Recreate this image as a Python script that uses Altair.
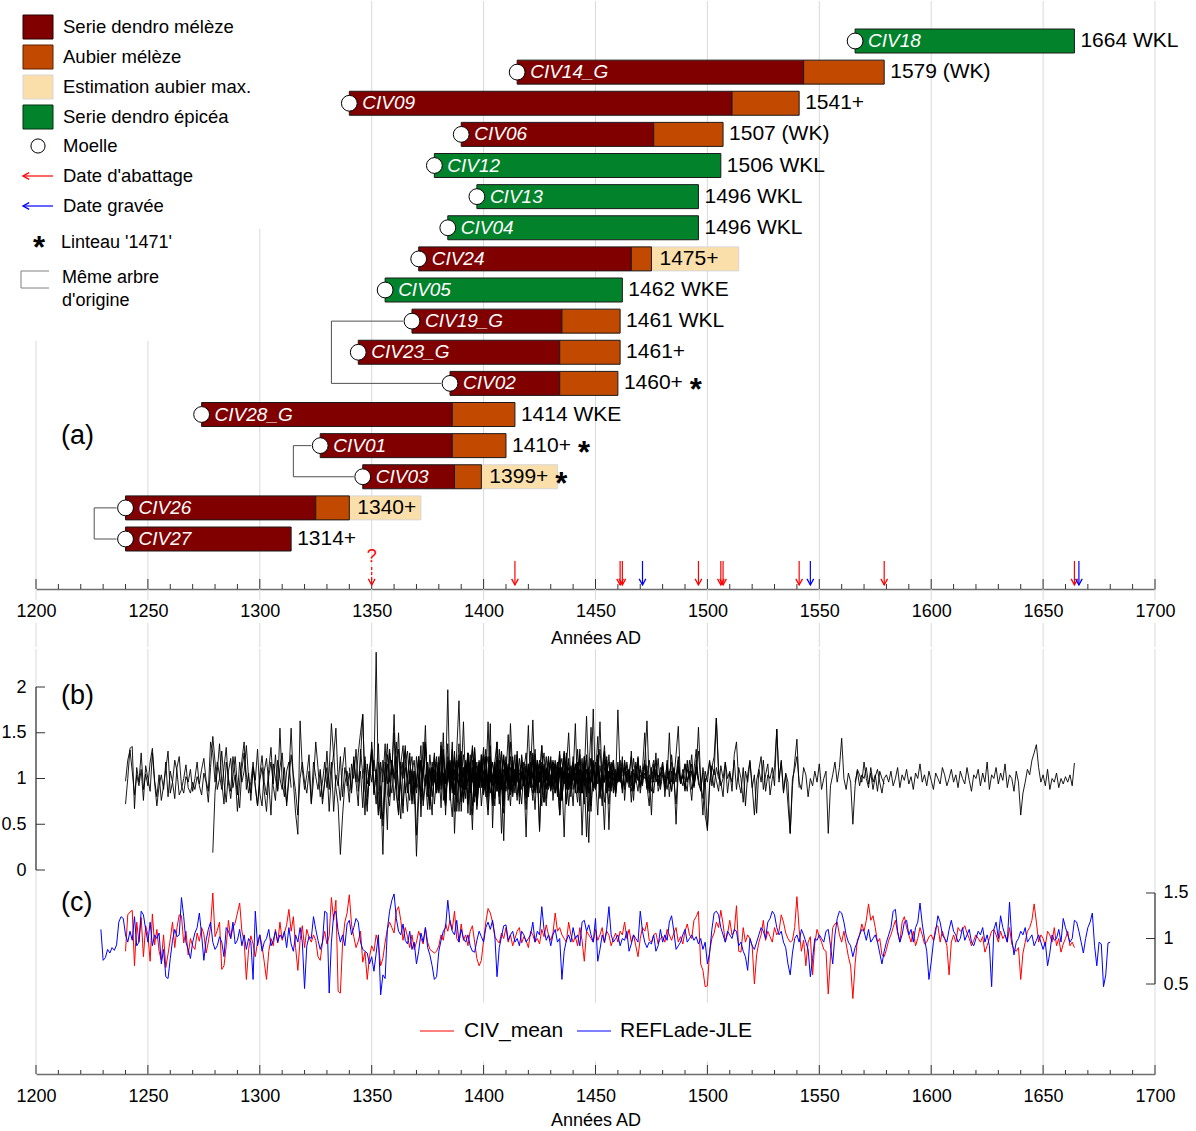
import altair as alt
import pandas as pd

FONT = "Liberation Sans"

# ---------------- panel (a): samples ----------------
samples = ["CIV18", "CIV14_G", "CIV09", "CIV06", "CIV12", "CIV13", "CIV04", "CIV24", "CIV05",
           "CIV19_G", "CIV23_G", "CIV02", "CIV28_G", "CIV01", "CIV03", "CIV26", "CIV27"]
species = ["epicea", "meleze", "meleze", "meleze", "epicea", "epicea", "epicea", "meleze", "epicea",
           "meleze", "meleze", "meleze", "meleze", "meleze", "meleze", "meleze", "meleze"]
pith_year = [1566, 1415, 1340, 1390, 1378, 1397, 1384, 1371, 1356, 1368, 1344, 1385, 1274, 1327, 1346, 1240, 1240]
sapwood_start = [None, 1543, 1511, 1476, None, None, None, 1466, None, 1435, 1434, 1434, 1386, 1386, 1387, 1325, None]
last_ring = [1664, 1579, 1541, 1507, 1506, 1496, 1496, 1475, 1462, 1461, 1461, 1460, 1414, 1410, 1399, 1340, 1314]
est_max = [None, None, None, None, None, None, None, 1514, None, None, None, None, None, None, 1433, 1372, None]
end_label = ["1664 WKL", "1579 (WK)", "1541+", "1507 (WK)", "1506 WKL", "1496 WKL", "1496 WKL", "1475+",
             "1462 WKE", "1461 WKL", "1461+", "1460+", "1414 WKE", "1410+", "1399+", "1340+", "1314+"]
lintel_1471 = ["CIV02", "CIV01", "CIV03"]
same_tree = [("CIV19_G", "CIV02"), ("CIV01", "CIV03"), ("CIV26", "CIV27")]
same_tree_link_year = [1332, 1315, 1226]

felling_years = [1414, 1461, 1462, 1496, 1506, 1507, 1541, 1579, 1664]
felling_uncertain = [1350]
engraved_years = [1471, 1546, 1666]

# ---------------- panel (b): individual series (x100) ----------------
b_start = {"CIV26": 1240, "CIV27": 1240, "CIV28_G": 1279, "CIV01": 1327, "CIV09": 1340, "CIV23_G": 1344,
           "CIV03": 1346, "CIV05": 1356, "CIV19_G": 1368, "CIV24": 1371, "CIV12": 1378, "CIV04": 1384,
           "CIV02": 1385, "CIV06": 1390, "CIV13": 1397, "CIV14_G": 1415, "CIV18": 1566}

civ26_b = [72,100,133,135,67,112,96,128,88,105, 92,118,133,98,80,104,76,92,110,130,
           84,96,120,108,82,88,100,115,90,84, 96,88,102,94,110,122,98,86,140,128,
           96,118,104,88,112,134,95,78,102,124, 92,68,110,128,104,84,96,118,90,70,
           104,125,96,82,110,134,92,76,120,100, 88,112,70,98,126,104,86,60,100,118,
           96,84,108,74,118,102,88,110,78,96, 112,64,104,128,90,72,17,60,94,108, 86]
civ27_b = [97,120,131,108,82,104,92,110,76,114, 100,86,128,95,70,92,104,88,118,80,
           108,96,78,112,124,92,84,102,96,110, 86,100,118,92,82,106,96,74,112,146,
           118,88,100,130,96,74,108,122,90,104, 82,118,96,108,136,100,84,112,92,70,
           98,112,86,64,102,118,94,126,88,155, 96,80,108,118,90]
civ28_b = [19, 85,108,138,96,72,118,100,86,124,104, 64,96,120,140,88,106,76,112,98,132,
           84,70,108,122,94,60,116,100,86,112, 128,92,74,104,155,96,62,39,163,110,
           88,104,126,72,98,140,112,80,96,118, 90,108,160,124,155,98,76,112,134,92,
           106,84,120,96,128,150,170,88,64,112, 96,120,102,138,70,56,118,94,132,104,
           170,92,60,116,136,84,100,128,76,108, 90,124,58,104,140,96,72,118,100,86,
           112,68,130,96,197,84,58,120,104,138, 80,94,116,62,108,132,90,76,112,100,
           126,88,60,108,118,94,140,82,104,70, 116,96,124,88,110]
civ01_b = [108,72,96, 130,88,118,64,104,92,124,80,112,98, 74,116,100,132,86,108,68,120,94,110,
           126,82,104,60,118,96,138,84,70,112, 100,124,88,56,116,132,92,76,108,120,
           84,102,136,70,96,118,88,60,124,104, 92,140,76,108,118,86,100,130,64,96,
           112,88,120,72,104,136,94,80,116,100, 86,124,66,108,92,118,140,80,98,110, 94]
civ09_b = [112,88,124,96,70,132,104,60,116,92, 140,108,238,86,56,120,98,44,128,110,
           150,82,62,118,100,136,84,108,72,96, 15,80,120,104,138,90,66,112,96,124,
           84,130,100,70,118,92,140,64,104,122, 96,112,78,128,60,106,134,88,116,70,
           100,124,92,136,74,110,86,120,96,62, 118,104,140,80,98,126,72,108,92,114,
           88,130,100,66,120,96,136,82,110,92, 124,76,104,118,60,96,130,88,112,100,
           70,116,94,132,84,108,122,64,100,118, 90,126,80,110,136,96,72,104,120,86,
           112,98,124,76,108,94,130,88,100,116, 84,104,120,92,70,112,100,128,86,96,
           118,80,108,94,126,100,72,114,96,104, 86,120,98,76,110,132,94,88,106,60,
           45,92,112,124,166,104,96,80,118,100, 108,86,126,140,96,84,112,70,104,120,
           92,60,98,110,124,88,104,116,82,100, 112,154,96,120,86,104,72,40,92,118, 143,90]
civ23_b = [96,120,170,88, 72,104,130,84,110,60,92,17,106,138, 96,120,76,104,150,88,62,116,130,94,
           108,72,124,96,86,140,100,66,112,92, 120,84,104,136,92,70,118,96,112,82,
           130,185,100,74,110,92,126,60,104,118, 90,108,134,80,96,116,72,104,124,88,
           100,32,118,92,160,106,84,112,96,72, 110,128,92,100,76,116,88,104,136,94,
           70,108,120,96,84,112,60,100,126,90, 106,80,118,96,132,88,104,72,110,94,
           122,86,100,60,114,96,128,84,108,100, 92,110,96,104]
civ03_b = [100,124,80,110, 132,96,72,118,104,48,90,126,100,84, 112,140,76,100,118,92,64,108,124,88,
           96,120,72,104,136,90,110,80,100,118, 86,104,128,60,112,96,120,84,108,92,
           130,74,100,116,88,104,122,70,96,110]
civ05_b = [92,116,80,120, 104,88,132,96,70,112,100,124,84,108, 38,96,118,104,158,80,96,112,72,100,
           124,88,106,94,138,76,110,98,120,64, 100,162,88,112,96,44,116,104,92,126,
           82,108,98,120,70,112,94,132,88,104, 116,76,100,124,92,108,84,118,98,66,
           110,96,128,86,104,120,92,74,112,100, 88,118,96,106,130,80,102,114,70,98,
           124,92,108,84,116,100,36,104,156,94, 88,110,132,96,74,106,118,92,100,84, 112,98,104]
civ19_b = [110,84, 96,124,80,108,92,116,70,102,128,88, 104,96,150,74,110,90,132,40,100,118,
           64,106,94,122,84,100,116,72,108,96, 124,88,104,112,76,98,120,92,106,84,
           118,100,70,112,96,130,86,104,92,116, 80,108,164,96,104,42,114,100,88,120,
           94,106,84,118,100,76,110,96,122,88, 104,92,116,70,108,98,126,84,100,112,
           90,120,78,104,96,114,86,106,100,92, 110,96]
civ24_b = [98,120,76,104,88,126,96,110,84, 116,92,104,70,124,96,108,86,118,100,
           74,112,96,128,88,104,120,66,100,114, 92,106,80,124,98,112,86,100,130,76,
           104,148,94,84,110,96,122,88,102,36, 116,100,90,126,84,108,96,114,78,104,
           120,92,100,86,112,96,128,72,106,94, 110,84,118,100,92,124,80,104,96,116,
           88,106,162,94,44,110,100,118,86,104, 96,112,84,120,100,90,108,76,114,98,
           104,92,116,88,100,96]
civ12_b = [104,86, 118,96,132,80,104,120,92,110,74,100, 124,88,106,96,118,70,102,114,90,126,
           84,108,98,160,46,112,94,104,130,88, 100,116,82,108,96,124,90,104,112,78,
           106,94,120,86,102,116,96,74,110,100, 92,118,104,84,126,98,108,72,100,114,
           88,106,96,120,38,104,168,94,110,90, 102,118,84,106,96,124,92,100,112,80,
           108,96,118,88,104,110,92,122,100,86, 114,98,106,90,120,102,84,110,96,104,
           118,92,100,108,86,112,96,120,94,104, 88,110,100,116,92,106,156,98,60,108,
           96,118,104,90,112,100,96]
civ04_b = [96,118,84,108,100,126, 90,104,118,76,112,96,132,88,106,120, 94,110,84,122,100,70,114,98,108,126,
           86,104,96,118,92,110,80,124,100,88, 116,98,106,84,120,96,110,128,90,102,
           114,88,104,96,122,76,108,100,118,92, 104,160,86,110,98,116,94,30,106,120,
           96,112,88,104,130,92,100,116,84,108, 98,120,90,106,114,96,104,86,118,100,
           92,110,150,96,104,60,116,100,94,112, 106,90,120,98,86,110,102,124,94,104,
           116,96,108,88,100,112,98]
civ02_b = [110,88,124,100,92, 116,80,106,128,96,112,74,104,120,90, 108,96,162,84,100,118,92,110,40,104,
           124,98,86,112,104,120,90,108,96,80, 114,100,126,92,106,84,118,96,110,102,
           88,120,96,108,76,112,100,124,90,106, 98,116,84,104,122,92,110,96,64,108,
           118,94,104,86,112,100,126,90,106,98, 96]
civ06_b = [104,126,88,110,96,120,80,104,116,92, 108,132,86,100,118,94,110,72,104,124,
           96,112,88,120,100,76,108,116,92,104, 158,90,106,98,118,44,112,100,124,88,
           104,96,116,80,110,122,94,106,88,100, 118,92,108,126,84,104,96,112,70,110,
           100,124,88,106,96,116,90,108,120,84, 104,98,112,92,118,100,86,110,96,122,
           90,106,100,114,84,108,96,120,92,104, 112,88,100,150,96,106,50,110,100,92,
           116,98,104,126,90,108,100,86,112,96, 104,120,92,110,98,86,114,100]
civ13_b = [92,118,100, 86,110,124,96,104,78,116,100,90,120, 104,88,112,96,126,82,106,100,118,92,
           110,96,84,120,102,114,90,106,98,124, 88,104,116,92,108,100,36,112,150,96,
           106,90,118,100,84,114,96,108,122,92, 100,146,88,104,96,120,44,110,102,94,
           118,100,90,112,96,106,124,88,104,98, 110,94,116,100,86,108,120,96,104,92,
           114,100,88,106,118,94,102,110,96,104, 90,116,100,108,94,120,98]
civ14_b = [112,88,126,96,104, 80,118,100,132,92,108,70,116,98,124, 86,104,120,96,60,112,100,128,88,106,
           118,94,74,110,100,124,84,108,96,176, 90,112,100,70,120,96,108,86,116,94,
           175,104,88,118,96,110,74,106,100,124, 92,104,118,163,96,86,110,100,122,88,
           104,96,116,80,108,100,126,157,94,110, 98,86,120,104,92,112,130,96,78,100,
           43,96,114,104,166,110,92,100,118,84, 106,96,120,88,112,100,74,108,96,118,
           90,104,62,110,96,120,86,104,100,112, 92,154,100,118,84,106,96,40,100,110,
           124,96,88,112,104,80,100,92,108,96, 116,88,100,108,40,92,104,118,96,112,
           144,100,88,106,96,50,92,110,104,96, 118,100,90,112,96,104,86,108,100,94]
civ18_b = [96,108,92,104, 100,112,94,106,88,102,110,96,84,100, 104,96,108,92,100,112,90,104,98,110,
           94,102,88,106,100,116,96,104,92,108, 98,88,106,100,94,112,104,92,100,110,
           96,104,90,108,100,94,112,98,86,104, 100,110,92,106,96,118,88,104,100,112,
           94,106,98,116,90,104,100,86,108,96, 60,84,96,110,104,120,128,137,112,96,
           104,92,110,88,100,96,106,90,100,94, 102,96,104,92,117]

b_values = {"CIV26": civ26_b, "CIV27": civ27_b, "CIV28_G": civ28_b, "CIV01": civ01_b, "CIV09": civ09_b,
            "CIV23_G": civ23_b, "CIV03": civ03_b, "CIV05": civ05_b, "CIV19_G": civ19_b, "CIV24": civ24_b,
            "CIV12": civ12_b, "CIV04": civ04_b, "CIV02": civ02_b, "CIV06": civ06_b, "CIV13": civ13_b,
            "CIV14_G": civ14_b, "CIV18": civ18_b}

# ---------------- panel (c): chronologies (x100) ----------------
civ_mean_start = 1240
civ_mean = [86,126,129,131,70,118,96,123,80,114, 104,75,127,93,110,86,76,104,68,83,
            99,118,90,112,126,125,95,108,82,100, 92,88,106,97,112,105,84,96,113,150,
            102,109,118,66,70,92,120,100,112,117, 128,139,108,97,55,88,103,94,80,96,
            104,92,74,55,86,100,92,110,95,118, 98,106,115,132,108,124,90,65,98,114,
            90,110,101,96,104,98,80,76,96,108, 94,103,145,120,142,42,40,95,118,128,
            148,115,102,90,97,108,74,85,55,80, 92,86,104,94,70,78,96,110,118,112,
            106,130,135,120,98,112,102,90,104,88, 96,108,100,94,112,96,88,86,84,86,
            92,104,98,116,108,120,110,130,100,96, 116,98,104,92,108,114,96,78,70,76,
            98,118,133,128,118,102,98,95,106,100, 112,96,104,92,100,108,112,95,102,98,
            90,108,104,96,100,94,110,102,115,104, 98,106,128,108,112,104,100,96,118,104,
            96,102,92,112,98,75,108,104,100,96, 110,98,104,112,95,108,104,92,100,106,
            96,108,104,118,100,110,96,104,92,80, 100,112,108,118,98,96,104,106,94,100,
            102,96,110,104,98,106,112,96,102,94, 108,116,104,100,120,124,130,72,65,47,
            48,86,100,106,118,112,131,116,96,105, 120,104,108,136,86,85,112,96,104,100,
            92,50,82,96,104,120,98,108,102,96, 112,104,108,126,118,106,100,96,98,112,
            146,110,86,98,70,96,102,60,95,110, 102,96,88,86,39,80,112,116,118,104,
            96,108,94,80,70,34,72,98,104,116, 108,120,138,120,125,112,96,100,82,80,
            88,98,104,112,120,106,96,118,124,112, 104,96,108,92,100,112,104,94,96,102,
            104,98,112,114,96,108,100,92,60,96, 104,96,112,108,110,114,106,100,92,98,
            104,100,96,102,85,92,100,108,110,104, 96,108,100,104,96,112,94,88,86,90,
            55,84,96,108,112,120,138,118,96,104, 100,92,108,104,96,112,92,100,85,94,
            100,108,92,96,90]
ref_lade_start = 1229
ref_lade = [110, 76,79,88,84,90,87,93,118,124,122, 104,96,108,98,124,92,96,130,126,110,
            96,118,92,104,100,106,72,88,58,56, 78,98,110,102,104,145,124,96,88,78,
            96,106,112,128,104,76,98,110,118,96, 88,92,102,96,80,112,108,100,118,94,
            98,110,92,104,88,100,96,55,130,92, 104,86,96,100,110,92,98,108,96,104,
            100,108,90,112,94,86,104,96,112,96, 45,92,102,100,124,110,98,88,96,130,
            128,40,96,126,130,108,96,104,92,116, 120,104,112,122,118,96,88,86,84,72,
            80,64,84,104,38,60,56,110,130,142, 149,122,108,104,116,98,94,108,88,96,
            72,86,106,96,112,90,82,70,55,58, 86,98,108,112,142,118,108,104,120,96,
            110,100,96,104,92,86,85,98,108,102, 96,112,118,110,120,104,58,90,102,114,
            115,98,104,108,96,100,92,108,104,96, 100,104,118,96,108,104,135,110,98,104,
            92,104,110,96,100,55,86,98,104,96, 112,100,104,92,118,120,108,115,104,96,
            122,75,88,104,96,110,135,104,96,100, 104,92,100,98,108,86,94,104,100,96,
            130,108,96,90,96,94,104,86,92,110, 96,104,98,118,125,108,88,92,96,104,
            110,96,100,104,98,102,94,100,88,96, 72,84,110,128,130,126,112,104,96,108,
            104,100,110,108,92,96,86,80,65,100, 92,88,96,104,112,108,100,118,122,130,
            126,112,104,108,96,90,72,60,84,100, 104,96,110,104,96,88,58,78,100,98,
            104,100,96,108,110,92,72,104,122,130, 128,118,104,96,92,80,90,96,104,110,
            108,98,110,96,100,104,96,84,72,86, 96,104,112,130,132,108,96,104,118,120,
            104,110,96,112,118,139,116,100,86,55, 74,96,108,125,118,104,100,96,110,120,
            108,104,96,100,112,98,104,110,96,92, 100,108,104,112,96,104,92,47,110,118,
            100,125,112,104,96,140,100,82,96,100, 108,104,112,96,100,104,92,98,104,96,
            88,96,70,84,104,98,100,110,96,122, 112,104,96,100,120,118,108,96,84,100,
            112,118,128,92,70,96,94,47,60,95, 96]

# ---------------- styling ----------------
W = 1119
HA = 588
HBC = 425
MAROON = "#800000"
SAP = "#c24a00"
EST = "#fbdfab"
GREEN = "#01822b"
GRID = "#d9d9d9"
RED = "#ff0000"
BLUE = "#0000ff"
DOWN = "M-0.7,-1.3L0,0L0.7,-1.3"
LEFT = "M1.3,-0.7L0,0L1.3,0.7"

one = pd.DataFrame({"k": [0]})


def vtext(s, x, y, size, color="black", align="left", weight="normal", style="normal"):
    return alt.Chart(one).mark_text(text=s, font=FONT, fontSize=size, color=color, align=align,
                                    baseline="middle", fontWeight=weight, fontStyle=style).encode(
        x=alt.value(x), y=alt.value(y))


def vrule(x1, y1, x2, y2, color, width=1.0):
    return alt.Chart(one).mark_rule(color=color, strokeWidth=width).encode(
        x=alt.value(x1), y=alt.value(y1), x2=alt.value(x2), y2=alt.value(y2))


def vrect(x1, y1, x2, y2, fill, stroke, width=1.0):
    return alt.Chart(one).mark_rect(fill=fill, stroke=stroke, strokeWidth=width).encode(
        x=alt.value(x1), x2=alt.value(x2), y=alt.value(y1), y2=alt.value(y2))


xs = alt.Scale(domain=[1200, 1700], nice=False, zero=False)


def make_xaxis(title_pad):
    return alt.Axis(orient="bottom", values=list(range(1200, 1701, 50)), format="d",
                    labelFontSize=18, labelPadding=13, ticks=False, grid=False, labelFlush=False,
                    domainColor="#6e6e6e", domainWidth=1.5, labelFont=FONT,
                    title="Années AD", titleFontSize=18, titleFont=FONT,
                    titleFontWeight="normal", titlePadding=title_pad, labelColor="black",
                    titleColor="black")


# identical x axis definition used by every layer of a panel so that the merged axis is consistent
XAXIS_A = make_xaxis(9)
XAXIS_BC = make_xaxis(6)


def XA(field):
    return alt.X(field, scale=xs, axis=XAXIS_A, title="Années AD")


def XB(field):
    return alt.X(field, scale=xs, axis=XAXIS_BC, title="Années AD")


ROW0, ROWSTEP = 40.0, 31.125
ys = alt.Scale(domain=[-ROW0 / ROWSTEP, (HA - ROW0) / ROWSTEP], nice=False, zero=False, reverse=True)
HALF = 12.0 / ROWSTEP


def YA(field):
    return alt.Y(field, scale=ys, axis=None)


row_of = {s: i for i, s in enumerate(samples)}

seg_rows = []
for i, s in enumerate(samples):
    heart_end = sapwood_start[i] if sapwood_start[i] else last_ring[i]
    seg_rows.append(dict(row=i, x0=pith_year[i], x1=heart_end, kind=species[i]))
    if sapwood_start[i]:
        seg_rows.append(dict(row=i, x0=sapwood_start[i], x1=last_ring[i], kind="aubier"))
seg = pd.DataFrame(seg_rows)
seg["y0"] = seg["row"] - HALF
seg["y1"] = seg["row"] + HALF

est = pd.DataFrame([dict(row=i, x0=last_ring[i], x1=est_max[i]) for i in range(len(samples)) if est_max[i]])
est["y0"] = est["row"] - HALF
est["y1"] = est["row"] + HALF

info = pd.DataFrame(dict(name=samples, row=list(range(len(samples))), pith=pith_year, last=last_ring,
                         label=end_label, has_est=[e is not None for e in est_max],
                         lintel=[s in lintel_1471 for s in samples]))

layers_a = []

grid_years = list(range(1200, 1701, 50))
for top, yrs in [(340, [1200, 1250]), (228, [1300]), (0, [y for y in grid_years if y > 1300])]:
    layers_a.append(alt.Chart(pd.DataFrame({"year": yrs})).mark_rule(color=GRID, strokeWidth=1).encode(
        x=XA("year:Q"), y=alt.value(top), y2=alt.value(HA)))
# grid continues between the two panels, around the tick labels and the axis title
layers_a.append(alt.Chart(pd.DataFrame({"year": grid_years})).mark_rule(color=GRID, strokeWidth=1).encode(
    x=XA("year:Q"), y=alt.value(HA), y2=alt.value(HA + 11)))
layers_a.append(alt.Chart(pd.DataFrame({"year": [y for y in grid_years if y != 1450]})).mark_rule(
    color=GRID, strokeWidth=1).encode(x=XA("year:Q"), y=alt.value(HA + 34), y2=alt.value(HA + 58)))

br_v, br_h = [], []
for (a, b), yr in zip(same_tree, same_tree_link_year):
    br_v.append(dict(x=yr, r0=row_of[a], r1=row_of[b]))
    for s in (a, b):
        br_h.append(dict(x=yr, x2=pith_year[row_of[s]] - 4, r=row_of[s]))
layers_a.append(alt.Chart(pd.DataFrame(br_v)).mark_rule(color="#505050", strokeWidth=1).encode(
    x=XA("x:Q"), y=YA("r0:Q"), y2="r1:Q"))
layers_a.append(alt.Chart(pd.DataFrame(br_h)).mark_rule(color="#505050", strokeWidth=1).encode(
    x=XA("x:Q"), x2="x2:Q", y=YA("r:Q")))

layers_a.append(alt.Chart(est).mark_rect(fill=EST, stroke="#d6d6d6", strokeWidth=1).encode(
    x=XA("x0:Q"), x2="x1:Q", y=YA("y0:Q"), y2="y1:Q"))

layers_a.append(alt.Chart(seg).mark_rect(stroke="#1a1a1a", strokeWidth=1).encode(
    x=XA("x0:Q"), x2="x1:Q", y=YA("y0:Q"), y2="y1:Q",
    fill=alt.Fill("kind:N", scale=alt.Scale(domain=["meleze", "aubier", "epicea"],
                                            range=[MAROON, SAP, GREEN]), legend=None)))

layers_a.append(alt.Chart(info).mark_point(shape="circle", filled=True, fill="white", stroke="black",
                                           strokeWidth=1, size=250, opacity=1).encode(
    x=XA("pith:Q"), y=YA("row:Q")))

layers_a.append(alt.Chart(info).mark_text(font=FONT, fontSize=19, fontStyle="italic", color="white",
                                          align="left", baseline="middle", dx=13).encode(
    x=XA("pith:Q"), y=YA("row:Q"), text="name:N"))

for flag, dx in [(False, 6), (True, 8)]:
    sub = info[info["has_est"] == flag]
    layers_a.append(alt.Chart(sub).mark_text(font=FONT, fontSize=21, color="black", align="left",
                                             baseline="middle", dx=dx).encode(
        x=XA("last:Q"), y=YA("row:Q"), text="label:N"))
    subl = sub[sub["lintel"]]
    layers_a.append(alt.Chart(subl).mark_text(text="*", font=FONT, fontSize=31, fontWeight="bold",
                                              color="black", align="center", baseline="middle",
                                              dx=dx + 72, dy=8).encode(
        x=XA("last:Q"), y=YA("row:Q")))

tick_years = list(range(1200, 1701, 10))
maj = pd.DataFrame({"year": [t for t in tick_years if t % 50 == 0]})
mnr = pd.DataFrame({"year": [t for t in tick_years if t % 50 != 0]})
layers_a.append(alt.Chart(maj).mark_rule(color="#333333", strokeWidth=1).encode(
    x=XA("year:Q"), y=alt.value(HA - 10), y2=alt.value(HA)))
layers_a.append(alt.Chart(mnr).mark_rule(color="#333333", strokeWidth=1).encode(
    x=XA("year:Q"), y=alt.value(HA - 5), y2=alt.value(HA)))

arr_df = pd.DataFrame({"year": felling_years + engraved_years,
                       "kind": ["f"] * len(felling_years) + ["e"] * len(engraved_years)})
acol = alt.Color("kind:N", scale=alt.Scale(domain=["f", "e"], range=[RED, BLUE]), legend=None)
layers_a.append(alt.Chart(arr_df).mark_rule(strokeWidth=1.2).encode(
    x=XA("year:Q"), y=alt.value(560), y2=alt.value(584), color=acol))
layers_a.append(alt.Chart(arr_df).mark_point(shape=DOWN, filled=False, size=90, strokeWidth=1.3,
                                             opacity=1).encode(
    x=XA("year:Q"), y=alt.value(584), color=acol))
unc = pd.DataFrame({"year": felling_uncertain})
layers_a.append(alt.Chart(unc).mark_rule(strokeWidth=1.2, color=RED, strokeDash=[3, 2]).encode(
    x=XA("year:Q"), y=alt.value(566), y2=alt.value(584)))
layers_a.append(alt.Chart(unc).mark_point(shape=DOWN, filled=False, size=90, strokeWidth=1.3, color=RED,
                                          opacity=1).encode(
    x=XA("year:Q"), y=alt.value(584)))
layers_a.append(alt.Chart(unc).mark_text(text="?", font=FONT, fontSize=18, color=RED, align="center",
                                         baseline="middle").encode(
    x=XA("year:Q"), y=alt.value(556)))

layers_a.append(vtext("(a)", 25, 435, 27))

leg_items = [("Serie dendro mélèze", MAROON, "#2a0000"), ("Aubier mélèze", SAP, "#5a2000"),
             ("Estimation aubier max.", EST, "#d6d6d6"), ("Serie dendro épicéa", GREEN, "#003010")]
for i, (lab, fill, strk) in enumerate(leg_items):
    yc = 26 + 30 * i
    layers_a.append(vrect(-13, yc - 12, 17, yc + 12, fill, strk))
    layers_a.append(vtext(lab, 27, yc, 18.5))
layers_a.append(alt.Chart(one).mark_point(shape="circle", filled=True, fill="white", stroke="black",
                                          strokeWidth=1, size=200, opacity=1).encode(
    x=alt.value(2), y=alt.value(145)))
layers_a.append(vtext("Moelle", 27, 145, 18.5))
for yc, col, lab in [(175, RED, "Date d'abattage"), (205, BLUE, "Date gravée")]:
    layers_a.append(vrule(-13, yc, 17, yc, col, 1.2))
    layers_a.append(alt.Chart(one).mark_point(shape=LEFT, filled=False, size=90, strokeWidth=1.3,
                                              color=col, opacity=1).encode(x=alt.value(-13), y=alt.value(yc)))
    layers_a.append(vtext(lab, 27, yc, 18.5))
layers_a.append(vtext("*", 3, 248, 31, align="center", weight="bold"))
layers_a.append(vtext("Linteau '1471'", 25, 242, 18))
layers_a.append(vrule(-15, 270, 13, 270, "#808080"))
layers_a.append(vrule(-15, 270, -15, 287, "#808080"))
layers_a.append(vrule(-15, 287, 13, 287, "#808080"))
layers_a.append(vtext("Même arbre", 26, 277, 18))
layers_a.append(vtext("d'origine", 26, 300, 18))

chart_a = alt.layer(*layers_a).properties(width=W, height=HA)

# ---------------- panels (b) and (c) ----------------
b_rows = []
for name, vals in b_values.items():
    for k, v in enumerate(vals):
        b_rows.append(dict(sample=name, year=b_start[name] + k, value=v / 100.0))
b_df = pd.DataFrame(b_rows)

c_rows = []
for k, v in enumerate(civ_mean):
    c_rows.append(dict(series="CIV_mean", year=civ_mean_start + k, value=v / 100.0))
for k, v in enumerate(ref_lade):
    c_rows.append(dict(series="REFLade-JLE", year=ref_lade_start + k, value=v / 100.0))
c_df = pd.DataFrame(c_rows)

yb = alt.Scale(domain=[-2.2295, 2.4153], nice=False, zero=False)
yc_s = alt.Scale(domain=[-0.489, 4.1813], nice=False, zero=False)

layers_bc = []
layers_bc.append(alt.Chart(pd.DataFrame({"year": grid_years})).mark_rule(color=GRID, strokeWidth=1).encode(
    x=XB("year:Q"), y=alt.value(0), y2=alt.value(HBC)))
layers_bc.append(vrect(375, 354, 725, 412, "white", "white"))

layers_bc.append(alt.Chart(b_df).mark_line(color="black", strokeWidth=0.9).encode(
    x=XB("year:Q"),
    y=alt.Y("value:Q", scale=yb, axis=alt.Axis(orient="left", values=[0, 0.5, 1, 1.5, 2], domain=False,
                                                ticks=False, grid=False, labelFontSize=18, labelPadding=10,
                                                labelFont=FONT, labelColor="black", title=None,
                                                labelExpr="datum.value + ''")),
    detail="sample:N"))
layers_bc.append(alt.Chart(pd.DataFrame({"a": [0.0], "b": [2.0]})).mark_rule(color="#333333", strokeWidth=1.2).encode(
    x=alt.value(0), y=alt.Y("a:Q", scale=yb, axis=None), y2="b:Q"))
layers_bc.append(alt.Chart(pd.DataFrame({"v": [0, 0.5, 1, 1.5, 2]})).mark_rule(color="#333333", strokeWidth=1).encode(
    x=alt.value(0), x2=alt.value(9), y=alt.Y("v:Q", scale=yb, axis=None)))

c_color = alt.Color("series:N", scale=alt.Scale(domain=["CIV_mean", "REFLade-JLE"], range=[RED, BLUE]),
                    legend=None)
layers_bc.append(alt.Chart(c_df).mark_line(strokeWidth=1).encode(
    x=XB("year:Q"),
    y=alt.Y("value:Q", scale=yc_s, axis=alt.Axis(orient="right", values=[0.5, 1, 1.5], domain=False,
                                                  ticks=False, grid=False, labelFontSize=18, labelPadding=8,
                                                  labelFont=FONT, labelColor="black", title=None,
                                                  labelExpr="datum.value + ''")),
    color=c_color, detail="series:N"))
layers_bc.append(alt.Chart(pd.DataFrame({"a": [0.5], "b": [1.5]})).mark_rule(color="#333333", strokeWidth=1.2).encode(
    x=alt.value(W), y=alt.Y("a:Q", scale=yc_s, axis=None), y2="b:Q"))
layers_bc.append(alt.Chart(pd.DataFrame({"v": [0.5, 1, 1.5]})).mark_rule(color="#333333", strokeWidth=1).encode(
    x=alt.value(W - 9), x2=alt.value(W), y=alt.Y("v:Q", scale=yc_s, axis=None)))

layers_bc.append(alt.Chart(maj).mark_rule(color="#333333", strokeWidth=1).encode(
    x=XB("year:Q"), y=alt.value(HBC - 9), y2=alt.value(HBC)))
layers_bc.append(alt.Chart(mnr).mark_rule(color="#333333", strokeWidth=1).encode(
    x=XB("year:Q"), y=alt.value(HBC - 4), y2=alt.value(HBC)))

layers_bc.append(vtext("(b)", 25, 47, 27))
layers_bc.append(vtext("(c)", 25, 254, 27))
layers_bc.append(vrule(384, 382, 418, 382, RED, 1.2))
layers_bc.append(vtext("CIV_mean", 428, 382, 21))
layers_bc.append(vrule(541, 382, 575, 382, BLUE, 1.2))
layers_bc.append(vtext("REFLade-JLE", 584, 382, 21))

chart_bc = alt.layer(*layers_bc).resolve_scale(y="independent").properties(width=W, height=HBC)

chart = alt.vconcat(chart_a, chart_bc, spacing=0).properties(
    padding={"left": 0, "right": 0, "top": 0, "bottom": 0}, background="white"
).configure_view(stroke=None)

chart.save("out.html", embed_options={"renderer": "svg", "actions": False})
